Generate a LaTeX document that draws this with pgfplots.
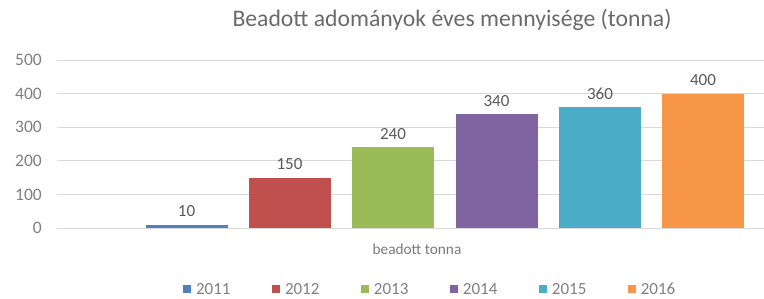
\documentclass[border=0pt]{standalone}
\usepackage{pgfplots}
\pgfplotsset{compat=1.18}
\usepackage{fontspec}
\setmainfont{Carlito}
\definecolor{c1}{HTML}{4F81BD}
\definecolor{c2}{HTML}{C0504D}
\definecolor{c3}{HTML}{9BBB59}
\definecolor{c4}{HTML}{8064A2}
\definecolor{c5}{HTML}{4BACC6}
\definecolor{c6}{HTML}{F79646}
\definecolor{gridc}{HTML}{D9D9D9}
\definecolor{tickc}{HTML}{808080}
\definecolor{labc}{HTML}{595959}
\begin{document}
\begin{tikzpicture}
\path[use as bounding box] (-57pt,-70pt) rectangle (707pt,228pt);
\begin{axis}[
  at={(0pt,0pt)}, anchor=south west,
  scale only axis, width=707pt, height=168pt,
  xmin=57, xmax=764, ymin=0, ymax=500,
  ytick={0,100,...,500}, xtick=\empty,
  axis line style={draw=none},
  ymajorgrids, grid style={gridc, line width=1pt},
  major tick length=0pt,
  /pgf/number format/assume math mode=true,
  yticklabel style={font=\fontsize{17.5}{17.5}\selectfont, text=tickc, inner sep=0pt, xshift=-15pt},
  ybar, bar shift=0pt, bar width=82,
  nodes near coords,
  every node near coord/.append style={font=\fontsize{17}{17}\selectfont, text=labc, yshift=4pt},
  clip=false,
  legend columns=6,
  legend style={at={(0.178,-0.365)}, anchor=west, draw=none, fill=none,
    font=\fontsize{17}{17}\selectfont, text=tickc,
    /tikz/every even column/.append style={column sep=39.5pt},
    inner sep=0pt},
  legend image code/.code={\fill[#1] (0pt,-4pt) rectangle (8pt,4pt); \path (0pt,0pt) -- (11pt,0pt);},
]
\addplot[fill=c1, draw=none] coordinates {(186.5,10)};
\addplot[fill=c2, draw=none] coordinates {(289.5,150)};
\addplot[fill=c3, draw=none] coordinates {(393,240)};
\addplot[fill=c4, draw=none] coordinates {(496.5,340)};
\addplot[fill=c5, draw=none] coordinates {(600,360)};
\addplot[fill=c6, draw=none] coordinates {(703,400)};
\legend{2011,2012,2013,2014,2015,2016}
\end{axis}
\node[text=labc!80!white, font=\fontsize{15.3}{15.3}\selectfont] at (360pt,-21pt) {beadott tonna};
\node[text=labc!90!white, font=\fontsize{23.7}{23.7}\selectfont] at (395pt,208pt) {Beadott adományok éves mennyisége (tonna)};
\end{tikzpicture}
\end{document}
